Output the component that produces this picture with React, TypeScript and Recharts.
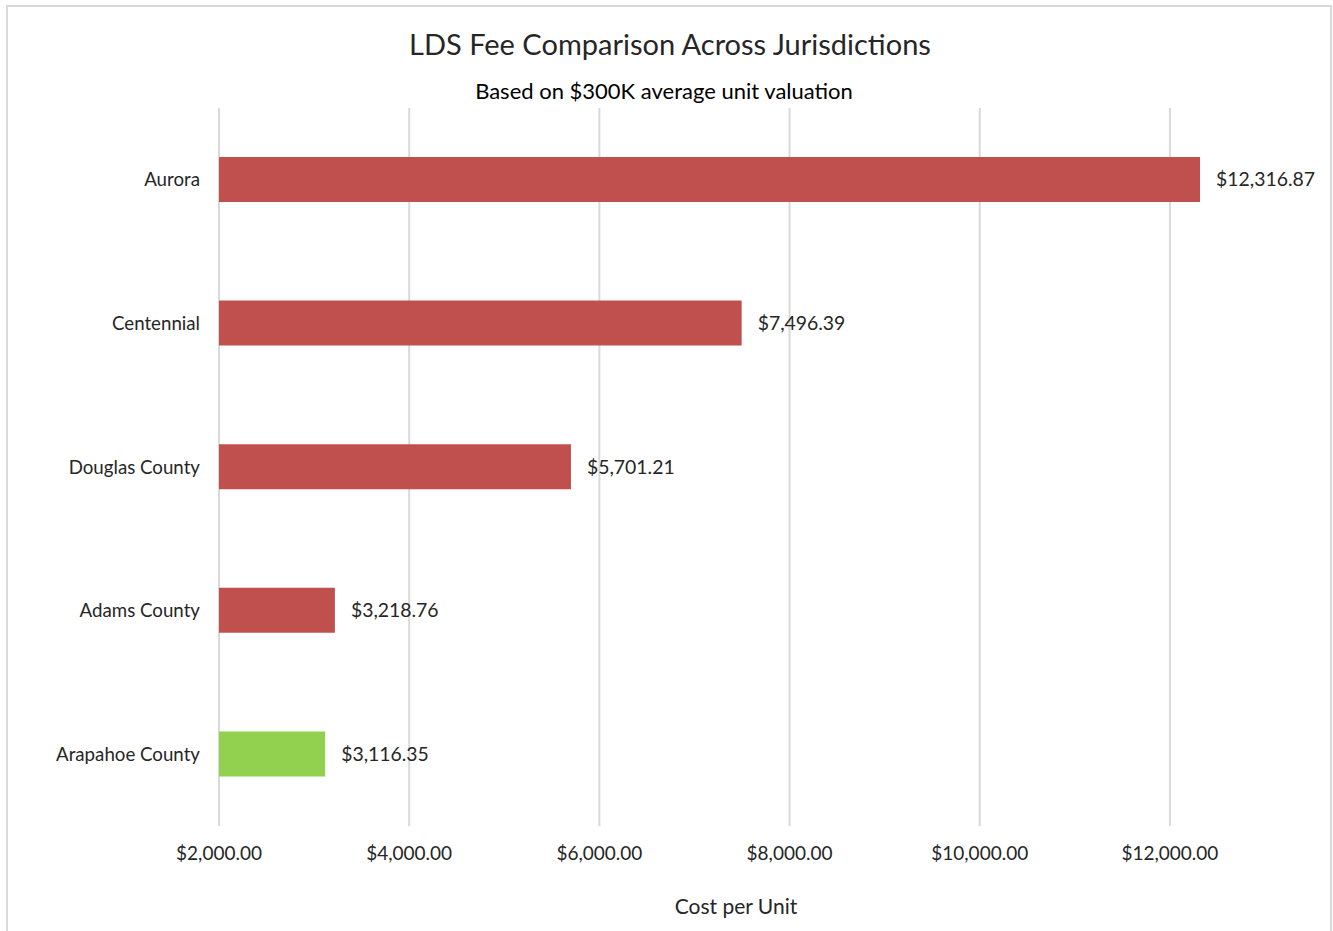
import { Bar, BarChart, CartesianGrid, Cell, LabelList, XAxis, YAxis } from "recharts";

const JURISDICTIONS = ["Aurora", "Centennial", "Douglas County", "Adams County", "Arapahoe County"];
const COST_PER_UNIT = [12316.87, 7496.39, 5701.21, 3218.76, 3116.35];
const BAR_COLORS = ["#C0504D", "#C0504D", "#C0504D", "#C0504D", "#92D050"];
const X_TICKS = [2000, 4000, 6000, 8000, 10000, 12000];

const FONT = "Lato, 'Open Sans', sans-serif";
const TEXT = "#262626";

const money = (v: number) =>
  "$" + v.toLocaleString("en-US", { minimumFractionDigits: 2, maximumFractionDigits: 2 });

const data = JURISDICTIONS.map((name, i) => ({
  name,
  cost: COST_PER_UNIT[i],
  color: BAR_COLORS[i],
}));

export default function App() {
  return (
    <div
      style={{
        position: "absolute",
        left: 0,
        top: 0,
        width: 1333,
        height: 931,
        overflow: "hidden",
        background: "#fff",
        fontFamily: FONT,
      }}
    >
      {/* chart frame, bottom edge runs off the picture */}
      <div
        style={{
          position: "absolute",
          left: 6,
          top: 5,
          width: 1322,
          height: 960,
          boxSizing: "content-box",
          borderTop: "2px solid #d9d9d9",
          borderLeft: "2px solid #d9d9d9",
          borderRight: "2px solid #d9d9d9",
        }}
      />
      <div style={{ position: "absolute", left: 0, top: 0 }}>
        <BarChart
          width={1333}
          height={931}
          data={data}
          layout="vertical"
          margin={{ top: 108, right: 68, left: 0, bottom: 5 }}
        >
          <CartesianGrid
            vertical
            horizontal={false}
            verticalValues={X_TICKS}
            stroke="#d9d9d9"
            strokeWidth={2}
          />
          <XAxis
            type="number"
            domain={[2000, 13000]}
            ticks={X_TICKS}
            allowDataOverflow
            tickFormatter={money}
            axisLine={false}
            tickLine={false}
            tickMargin={15}
            height={100}
            tick={{ fill: TEXT, fontSize: 19, fontFamily: FONT }}
            label={{
              value: "Cost per Unit",
              position: "insideBottom",
              offset: 12,
              dx: -6,
              fill: TEXT,
              fontSize: 21,
              fontFamily: FONT,
            }}
          />
          <YAxis
            type="category"
            dataKey="name"
            width={219}
            axisLine={false}
            tickLine={false}
            tickMargin={13}
            tick={{ fill: TEXT, fontSize: 18.7, fontFamily: FONT }}
          />
          <Bar dataKey="cost" barSize={45} isAnimationActive={false}>
            {data.map((d, i) => (
              <Cell key={i} fill={d.color} />
            ))}
            <LabelList
              dataKey="cost"
              position="right"
              offset={16}
              formatter={(v: number) => money(v)}
              style={{ fill: TEXT, fontSize: 19.4, fontFamily: FONT }}
            />
          </Bar>
        </BarChart>
      </div>
      <div
        style={{
          position: "absolute",
          left: 0,
          width: 1340,
          top: 26,
          textAlign: "center",
          fontSize: 29,
          color: TEXT,
        }}
      >
        LDS Fee Comparison Across Jurisdictions
      </div>
      <div
        style={{
          position: "absolute",
          left: 0,
          width: 1328,
          top: 77,
          textAlign: "center",
          fontSize: 22,
          color: "#000",
        }}
      >
        Based on $300K average unit valuation
      </div>
    </div>
  );
}
